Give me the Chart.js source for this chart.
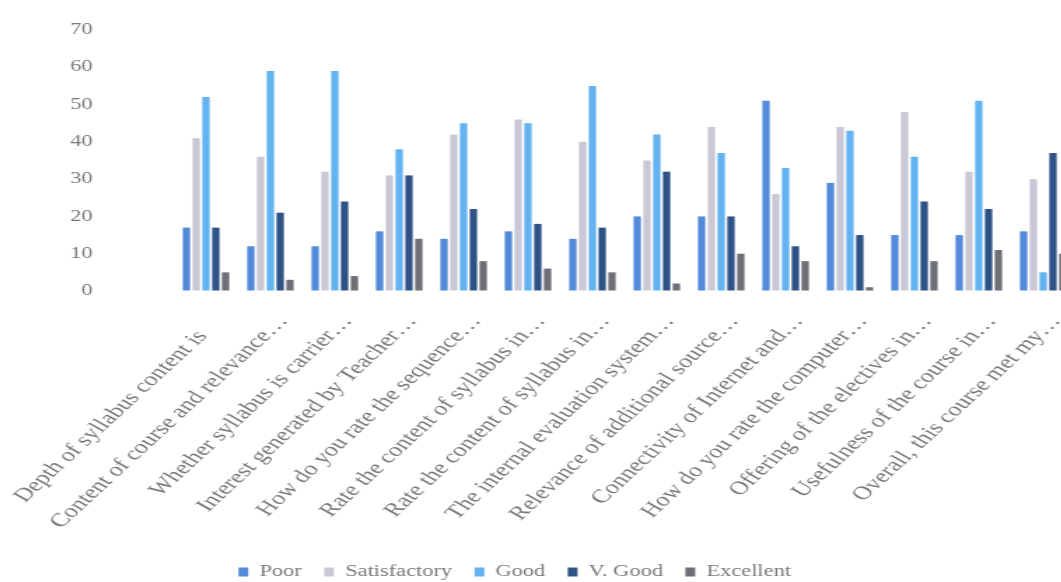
<!DOCTYPE html>
<html>
<head>
<meta charset="utf-8">
<script src="https://cdn.jsdelivr.net/npm/chart.js@4.4.1/dist/chart.umd.min.js"></script>
<style>
  html, body { margin: 0; padding: 0; background: #fff; overflow: hidden; }
  #canvasContainer { position: relative; width: 1061px; height: 582px; overflow: hidden; }
  /* the source picture is stretched sideways, so draw narrow and widen it */
  #chartCanvas { position: absolute; left: -46px; top: 0; transform: scaleX(1.4); transform-origin: 0 0; }
</style>
</head>
<body>
<div id="canvasContainer"><canvas id="chartCanvas" width="801" height="582"></canvas></div>
<script>
var QUESTIONS = [
  'Depth of syllabus content is    ',
  'Content of course and relevance\u2026',
  'Whether syllabus is carrier\u2026',
  'Interest generated by Teacher\u2026',
  'How do you rate the sequence\u2026',
  'Rate the content of syllabus in\u2026',
  'Rate the content of syllabus in\u2026',
  'The internal evaluation system\u2026',
  'Relevance of additional source\u2026',
  'Connectivity of Internet and\u2026',
  'How do you rate the computer\u2026',
  'Offering of the electives in\u2026',
  'Usefulness of the course in\u2026',
  'Overall, this course met my\u2026'
];

var POOR         = [17, 12, 12, 16, 14, 16, 14, 20, 20, 51, 29, 15, 15, 16];
var SATISFACTORY = [41, 36, 32, 31, 42, 46, 40, 35, 44, 26, 44, 48, 32, 30];
var GOOD         = [52, 59, 59, 38, 45, 45, 55, 42, 37, 33, 43, 36, 51, 5];
var V_GOOD       = [17, 21, 24, 31, 22, 18, 17, 32, 20, 12, 15, 24, 22, 37];
var EXCELLENT    = [5, 3, 4, 14, 8, 6, 5, 2, 10, 8, 1, 8, 11, 10];

var Y_TICKS = [0, 10, 20, 30, 40, 50, 60, 70];

var SERIES = ['Poor', 'Satisfactory', 'Good', 'V. Good', 'Excellent'];
var COLORS = ['#528ad9', '#c9c8d4', '#63b3f0', '#2f5286', '#6e6e76'];

var TEXT_COLOR = '#7a7a7a';
var FONT_FAMILY = "'Liberation Serif', 'Times New Roman', serif";

function makeDataset(label, values, i) {
  return {
    label: label,
    data: values,
    backgroundColor: COLORS[i],
    borderWidth: 0,
    categoryPercentage: 0.76,
    barPercentage: 0.75
  };
}

// tick marks are kept but made invisible, they only push the labels away
function hiddenTicks(len) {
  return { display: true, drawOnChartArea: false, drawTicks: true, tickLength: len, color: 'rgba(0,0,0,0)' };
}

var data = {
  labels: QUESTIONS,
  datasets: [
    makeDataset(SERIES[0], POOR, 0),
    makeDataset(SERIES[1], SATISFACTORY, 1),
    makeDataset(SERIES[2], GOOD, 2),
    makeDataset(SERIES[3], V_GOOD, 3),
    makeDataset(SERIES[4], EXCELLENT, 4)
  ]
};

var options = {
  responsive: false,
  animation: false,
  layout: { padding: { top: 30, bottom: -8, left: 0, right: 0 } },
  plugins: {
    title: { display: false },
    tooltip: { enabled: false },
    legend: {
      display: true,
      position: 'bottom',
      labels: {
        boxWidth: 7,
        boxHeight: 9,
        padding: 16,
        color: TEXT_COLOR,
        font: { family: FONT_FAMILY, size: 16 }
      }
    }
  },
  scales: {
    x: {
      grid: hiddenTicks(17),
      border: { display: false },
      ticks: {
        autoSkip: false,
        minRotation: 52,
        maxRotation: 52,
        padding: 3,
        labelOffset: 9,
        color: TEXT_COLOR,
        font: { family: FONT_FAMILY, size: 19 }
      },
      afterFit: function(scale) { scale.height = 257; }
    },
    y: {
      min: 0,
      max: 70,
      grid: hiddenTicks(55),
      border: { display: false },
      ticks: {
        padding: 3,
        color: TEXT_COLOR,
        font: { family: FONT_FAMILY, size: 16 }
      },
      afterBuildTicks: function(axis) {
        axis.ticks = Y_TICKS.map(function(v) { return { value: v }; });
      },
      afterFit: function(scale) { scale.width = 157; }
    }
  }
};

var ctx = document.getElementById('chartCanvas');
new Chart(ctx, { type: 'bar', data: data, options: options });
</script>
</body>
</html>
